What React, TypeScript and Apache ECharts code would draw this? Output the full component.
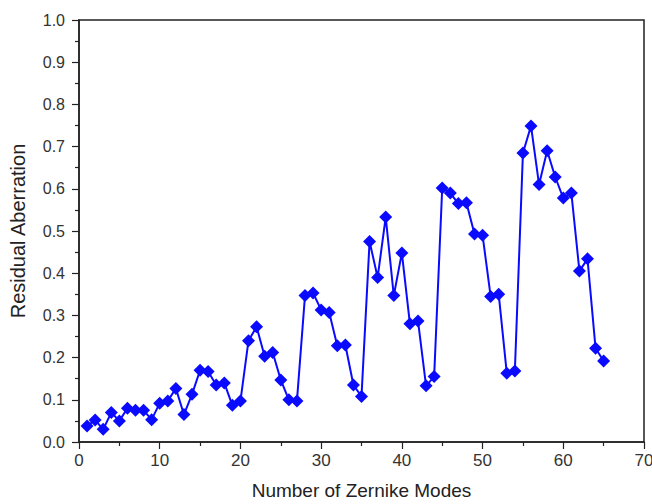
import React, { useEffect, useRef } from "react";
import * as echarts from "echarts";

const modes: number[] = [
  1, 2, 3, 4, 5, 6, 7, 8, 9, 10, 11, 12, 13, 14, 15, 16, 17, 18, 19, 20,
  21, 22, 23, 24, 25, 26, 27, 28, 29, 30, 31, 32, 33, 34, 35, 36, 37, 38, 39, 40,
  41, 42, 43, 44, 45, 46, 47, 48, 49, 50, 51, 52, 53, 54, 55, 56, 57, 58, 59, 60,
  61, 62, 63, 64, 65,
];

const residual: number[] = [
  0.038, 0.052, 0.03, 0.07, 0.05, 0.08, 0.075, 0.075, 0.053, 0.092,
  0.097, 0.127, 0.065, 0.113, 0.17, 0.167, 0.135, 0.14, 0.087, 0.097,
  0.24, 0.273, 0.203, 0.212, 0.147, 0.1, 0.097, 0.347, 0.353, 0.313,
  0.307, 0.228, 0.23, 0.135, 0.108, 0.475, 0.39, 0.533, 0.347, 0.448,
  0.28, 0.287, 0.133, 0.155, 0.602, 0.59, 0.565, 0.567, 0.493, 0.49,
  0.345, 0.35, 0.163, 0.168, 0.685, 0.749, 0.61, 0.69, 0.628, 0.578,
  0.59, 0.405, 0.434, 0.222, 0.192,
];

const xTitle = "Number of Zernike Modes";
const yTitle = "Residual Aberration";

export default function App() {
  const ref = useRef<HTMLDivElement>(null);
  useEffect(() => {
    if (!ref.current) return;
    const chart = echarts.init(ref.current, null, { renderer: "svg" });
    const font = "Liberation Sans, Arial, sans-serif";
    chart.setOption({
      animation: false,
      backgroundColor: "#ffffff",
      grid: {
        left: 79,
        right: 8,
        top: 20,
        bottom: 62,
        containLabel: false,
        outerBoundsMode: "none",
        show: true,
        borderColor: "#222",
        borderWidth: 1.5,
      },
      xAxis: {
        type: "value",
        min: 0,
        max: 70,
        interval: 10,
        name: xTitle,
        nameLocation: "middle",
        nameGap: 39,
        nameTextStyle: { fontFamily: font, fontSize: 19, color: "#222" },
        axisLine: { show: true, onZero: false, lineStyle: { color: "#222", width: 1.5 } },
        axisTick: { show: true, inside: false, length: 7, lineStyle: { color: "#222", width: 1.2 } },
        minorTick: { show: true, splitNumber: 2, length: 4, lineStyle: { color: "#222", width: 1.2 } },
        axisLabel: { fontFamily: font, fontSize: 17, color: "#333", margin: 10 },
        splitLine: { show: false },
      },
      yAxis: {
        type: "value",
        min: 0,
        max: 1.0,
        interval: 0.1,
        name: yTitle,
        nameLocation: "middle",
        nameGap: 51,
        nameTextStyle: { fontFamily: font, fontSize: 20, color: "#222" },
        axisLine: { show: true, onZero: false, lineStyle: { color: "#222", width: 1.5 } },
        axisTick: { show: true, inside: false, length: 7, lineStyle: { color: "#222", width: 1.2 } },
        minorTick: { show: true, splitNumber: 2, length: 4, lineStyle: { color: "#222", width: 1.2 } },
        axisLabel: {
          fontFamily: font,
          fontSize: 16,
          color: "#333",
          margin: 14,
          formatter: (v: number) => v.toFixed(1),
        },
        splitLine: { show: false },
      },
      series: [
        {
          type: "line",
          data: modes.map((m, i) => [m, residual[i]]),
          symbol: "diamond",
          symbolSize: 13,
          itemStyle: { color: "#0a0aff" },
          lineStyle: { color: "#0a0aff", width: 2 },
        },
      ],
    });
    return () => chart.dispose();
  }, []);
  return <div ref={ref} style={{ width: 652, height: 504, position: "absolute", left: 0, top: 0 }} />;
}
